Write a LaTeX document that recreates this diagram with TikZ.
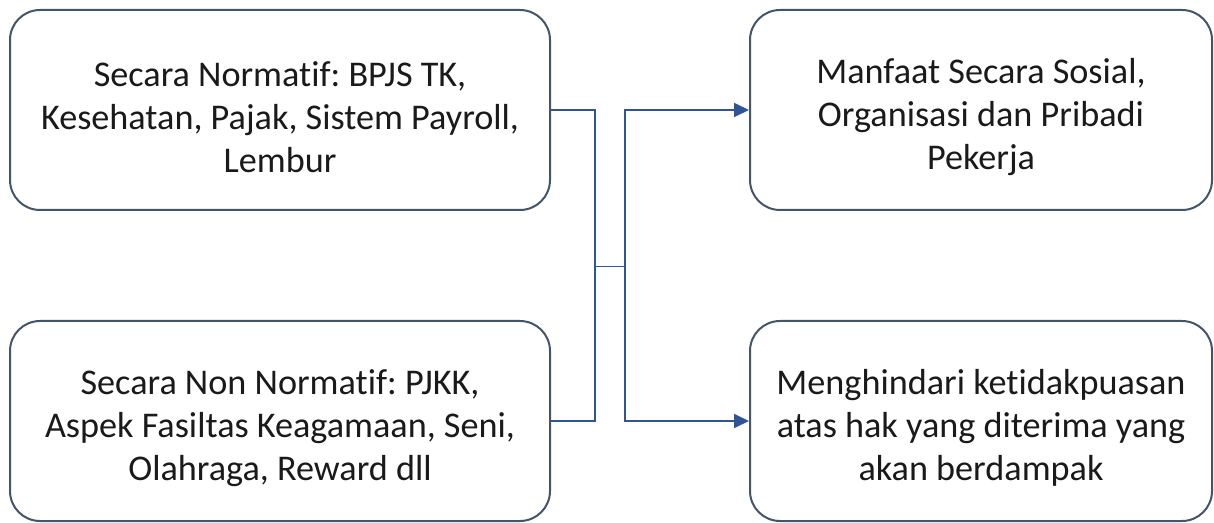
\documentclass[tikz,border=0pt]{standalone}
\usepackage{fontspec}
\setmainfont{Carlito}[Ligatures=NoCommon]
\usetikzlibrary{arrows.meta}
\definecolor{boxline}{HTML}{44546A}
\definecolor{conn}{HTML}{2F5597}
\definecolor{txt}{HTML}{1A1A1A}
\frenchspacing
\begin{document}
\begin{tikzpicture}[x=1pt,y=1pt,
  box/.style={draw=boxline,line width=2pt,rounded corners=30pt,fill=white,
    minimum height=200pt,inner sep=0pt},
  lbox/.style={box,minimum width=540pt},
  rbox/.style={box,minimum width=462pt},
  label/.style={inner sep=0pt,align=center,text=txt,
    font=\fontsize{36.2}{43}\selectfont\frenchspacing},
  conline/.style={draw=conn,line width=1.8pt},
  arr/.style={conline,-{Triangle[length=15pt,width=14pt]}}]
\useasboundingbox (0,0) rectangle (1214,522);
\node[lbox] (a) at (280,412) {};
\node[lbox] (b) at (280,101) {};
\node[rbox] (c) at (981,412) {};
\node[rbox] (d) at (981,101) {};
\node[label] (at) at ([yshift=-7pt]a.center) {Secara Normatif: BPJS TK,\\Kesehatan, Pajak, Sistem Payroll,\\Lembur};
\node[label] (bt) at ([yshift=-7pt]b.center) {Secara Non Normatif: PJKK,\\Aspek Fasiltas Keagamaan, Seni,\\Olahraga, Reward dll};
\node[label] (ct) at ([yshift=-7pt]c.center) {Manfaat Secara Sosial,\\Organisasi dan Pribadi\\Pekerja};
\node[label] (dt) at ([yshift=-7pt]d.center) {Menghindari ketidakpuasan\\atas hak yang diterima yang\\akan berdampak};
\coordinate (j1) at (595,255.5);
\coordinate (j2) at (625,255.5);
\draw[conline] (a.east) -| (j1);
\draw[conline] (b.east) -| (j1);
\draw[conline] (j1) -- (j2);
\draw[arr] (j2) |- (c.west);
\draw[arr] (j2) |- (d.west);
\end{tikzpicture}
\end{document}
